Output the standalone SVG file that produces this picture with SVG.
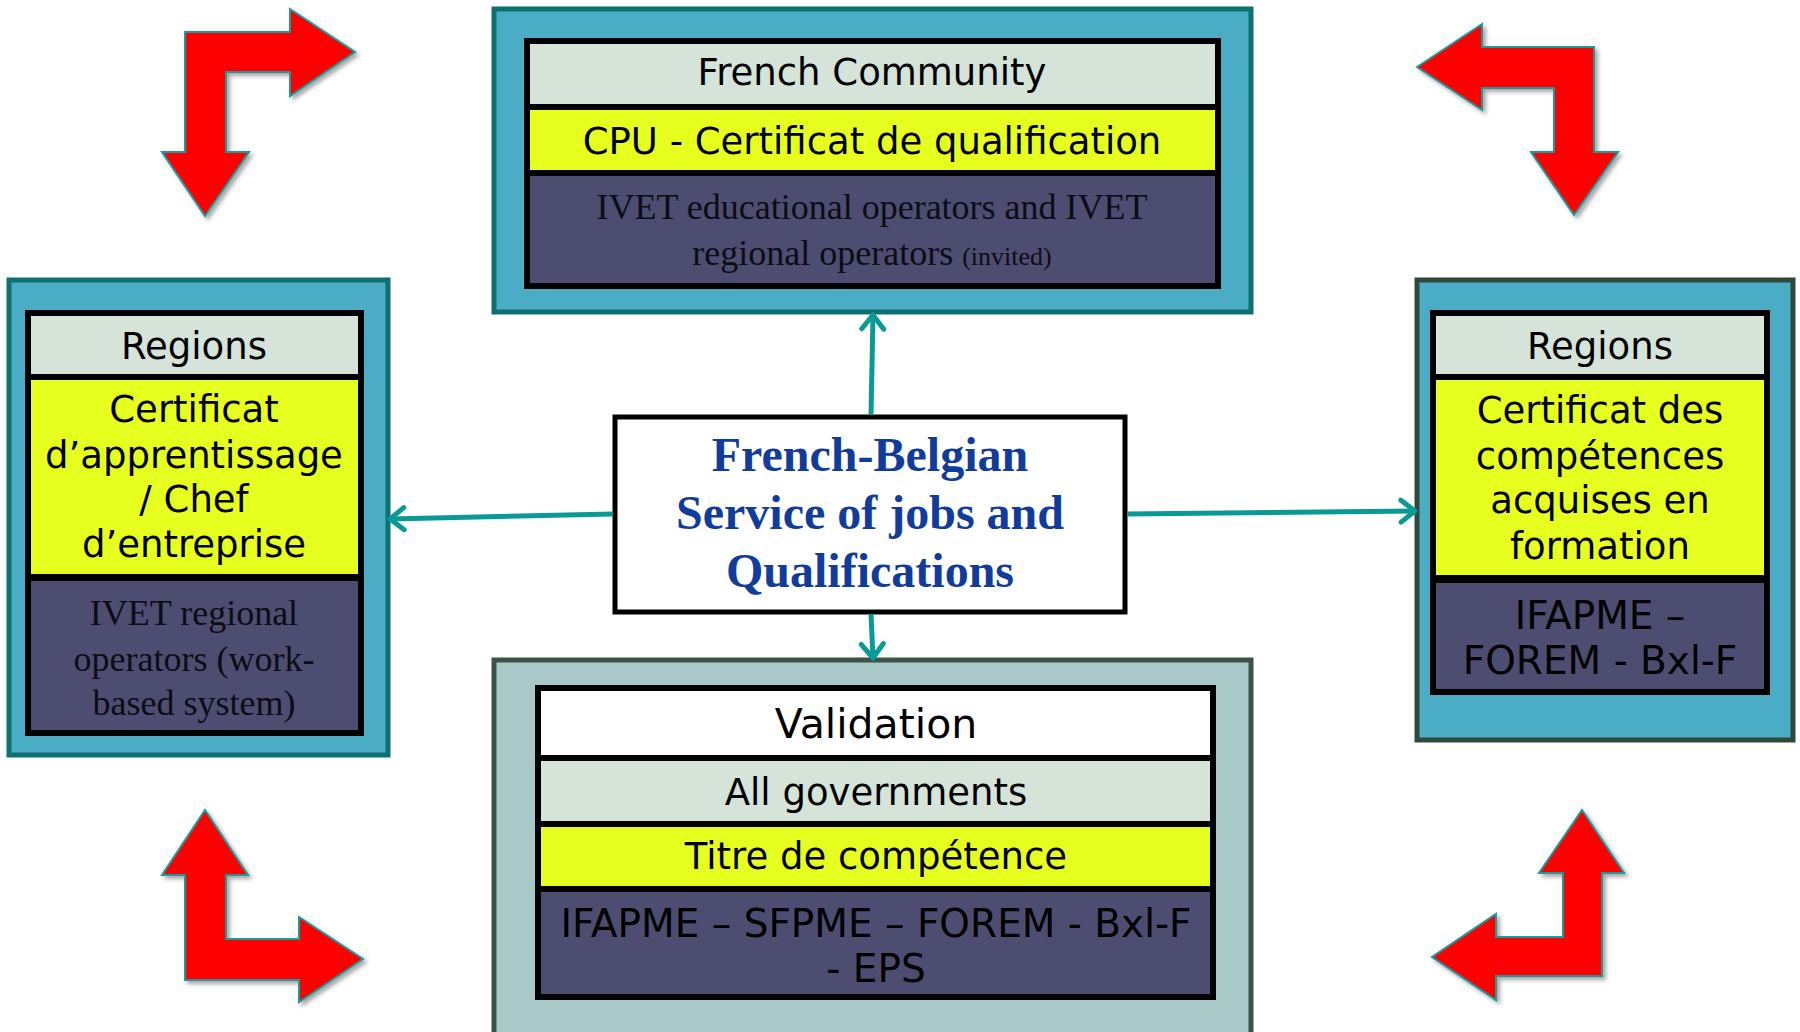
<svg xmlns="http://www.w3.org/2000/svg" width="1800" height="1032" viewBox="0 0 1800 1032">
<style>
.outerA{fill:#4bacc6;stroke:#0f7070;stroke-width:5}
.outerB{fill:#4bacc6;stroke:#2f4a3a;stroke-width:5}
.outerC{fill:#a9c9c9;stroke:#3a5444;stroke-width:5}
.blk{fill:#000}
.lt{fill:#d6e3d8}
.yl{fill:#e6ff1e}
.pu{fill:#4d4d72}
.wh{fill:#ffffff}
.sans{font-family:"DejaVu Sans","Verdana",sans-serif;font-size:37px;fill:#000;text-anchor:middle}
.sansP{font-family:"DejaVu Sans","Verdana",sans-serif;font-size:39px;fill:#000;text-anchor:middle}
.serif{font-family:"Liberation Serif","Times New Roman",serif;font-size:36px;fill:#0c0c14;text-anchor:middle}
.ctr{font-family:"Liberation Serif","Times New Roman",serif;font-size:48px;font-weight:bold;fill:#123c9c;text-anchor:middle}
.red{fill:#ff0000;stroke:#1a9a9a;stroke-width:2;filter:url(#sh)}
.con{stroke:#0a9a96;stroke-width:5;fill:none;marker-end:url(#chev)}
</style>
<defs>
<filter id="sh" x="-20%" y="-20%" width="140%" height="140%">
<feDropShadow dx="3" dy="3" stdDeviation="2" flood-color="#000" flood-opacity="0.35"/>
</filter>
<marker id="chev" viewBox="0 0 20 28" refX="17" refY="14" markerWidth="20" markerHeight="28" markerUnits="userSpaceOnUse" orient="auto">
<path d="M3,3 L17,14 L3,25" fill="none" stroke="#0a9a96" stroke-width="5" stroke-linecap="round" stroke-linejoin="round"/>
</marker>
</defs>
<rect width="1800" height="1032" fill="#fff"/>

<g id="red-arrows">
<polygon id="arrow-tl" class="red" points="185,152 162,152 205,216 249,152 226,152 226,72 290,72 290,96 355,52 290,9 290,32 185,32"/>
<polygon id="arrow-tr" class="red" points="1417,67 1482,24 1482,47 1594,47 1594,152 1618,152 1574,215 1531,152 1554,152 1554,88 1482,88 1482,110"/>
<polygon id="arrow-bl" class="red" points="205,810 248,875 226,875 226,939 299,939 299,917 363,959 299,1002 299,980 185,980 185,875 162,875"/>
<polygon id="arrow-br" class="red" points="1582,810 1624,873 1602,873 1602,976 1496,976 1496,1000 1432,957 1496,914 1496,937 1563,937 1563,873 1539,873"/>
</g>

<g id="french-community">
<rect class="outerA" x="494" y="9" width="757" height="303"/>
<rect class="blk" x="524" y="38" width="697" height="251"/>
<rect class="lt" x="530" y="44" width="685" height="60"/>
<rect class="yl" x="530" y="110" width="685" height="60"/>
<rect class="pu" x="530" y="176" width="685" height="107"/>
<text class="sans" x="872" y="85">French Community</text>
<text class="sans" x="872" y="154">CPU - Certificat de qualification</text>
<text class="serif" x="872" y="219">IVET educational operators and IVET</text>
<text class="serif" x="872" y="265">regional operators <tspan font-size="26px">(invited)</tspan></text>
</g>

<g id="regions-left">
<rect class="outerA" x="9" y="280" width="379" height="475"/>
<rect class="blk" x="25" y="310" width="339" height="426"/>
<rect class="lt" x="31" y="316" width="327" height="58"/>
<rect class="yl" x="31" y="380" width="327" height="194"/>
<rect class="pu" x="31" y="581" width="327" height="149"/>
<text class="sans" x="194" y="359">Regions</text>
<text class="sans" x="194" y="422">Certificat</text>
<text class="sans" x="194" y="468">d’apprentissage</text>
<text class="sans" x="194" y="512">/ Chef</text>
<text class="sans" x="194" y="557">d’entreprise</text>
<text class="serif" x="194" y="625">IVET regional</text>
<text class="serif" x="194" y="671">operators (work-</text>
<text class="serif" x="194" y="715">based system)</text>
</g>

<g id="regions-right">
<rect class="outerB" x="1417" y="280" width="376" height="460"/>
<rect class="blk" x="1430" y="310" width="340" height="385"/>
<rect class="lt" x="1436" y="316" width="328" height="58"/>
<rect class="yl" x="1436" y="380" width="328" height="195"/>
<rect class="pu" x="1436" y="583" width="328" height="106"/>
<text class="sans" x="1600" y="359">Regions</text>
<text class="sans" x="1600" y="423">Certificat des</text>
<text class="sans" x="1600" y="469">compétences</text>
<text class="sans" x="1600" y="513">acquises en</text>
<text class="sans" x="1600" y="559">formation</text>
<text class="sansP" x="1600" y="629">IFAPME –</text>
<text class="sansP" x="1600" y="674">FOREM - Bxl-F</text>
</g>

<g id="validation">
<rect class="outerC" x="494" y="660" width="757" height="385"/>
<rect class="blk" x="535" y="685" width="681" height="315"/>
<rect class="wh" x="541" y="691" width="669" height="64"/>
<rect class="lt" x="541" y="761" width="669" height="60"/>
<rect class="yl" x="541" y="827" width="669" height="59"/>
<rect class="pu" x="541" y="892" width="669" height="102"/>
<text class="sans" x="876" y="738" style="font-size:41px">Validation</text>
<text class="sans" x="876" y="805">All governments</text>
<text class="sans" x="876" y="869">Titre de compétence</text>
<text class="sansP" x="876" y="937">IFAPME – SFPME – FOREM - Bxl-F</text>
<text class="sansP" x="876" y="982">- EPS</text>
</g>

<g id="central-service">
<rect x="615" y="417" width="510" height="195" fill="#fff" stroke="#000" stroke-width="5"/>
<text class="ctr" x="870" y="471">French-Belgian</text>
<text class="ctr" x="870" y="529">Service of  jobs and</text>
<text class="ctr" x="870" y="587">Qualifications</text>
</g>

<g id="connectors">
<line class="con" x1="871" y1="415" x2="873" y2="315"/>
<line class="con" x1="871" y1="614" x2="873" y2="658"/>
<line class="con" x1="613" y1="514" x2="390" y2="519"/>
<line class="con" x1="1127" y1="514" x2="1415" y2="511"/>
</g>
</svg>
